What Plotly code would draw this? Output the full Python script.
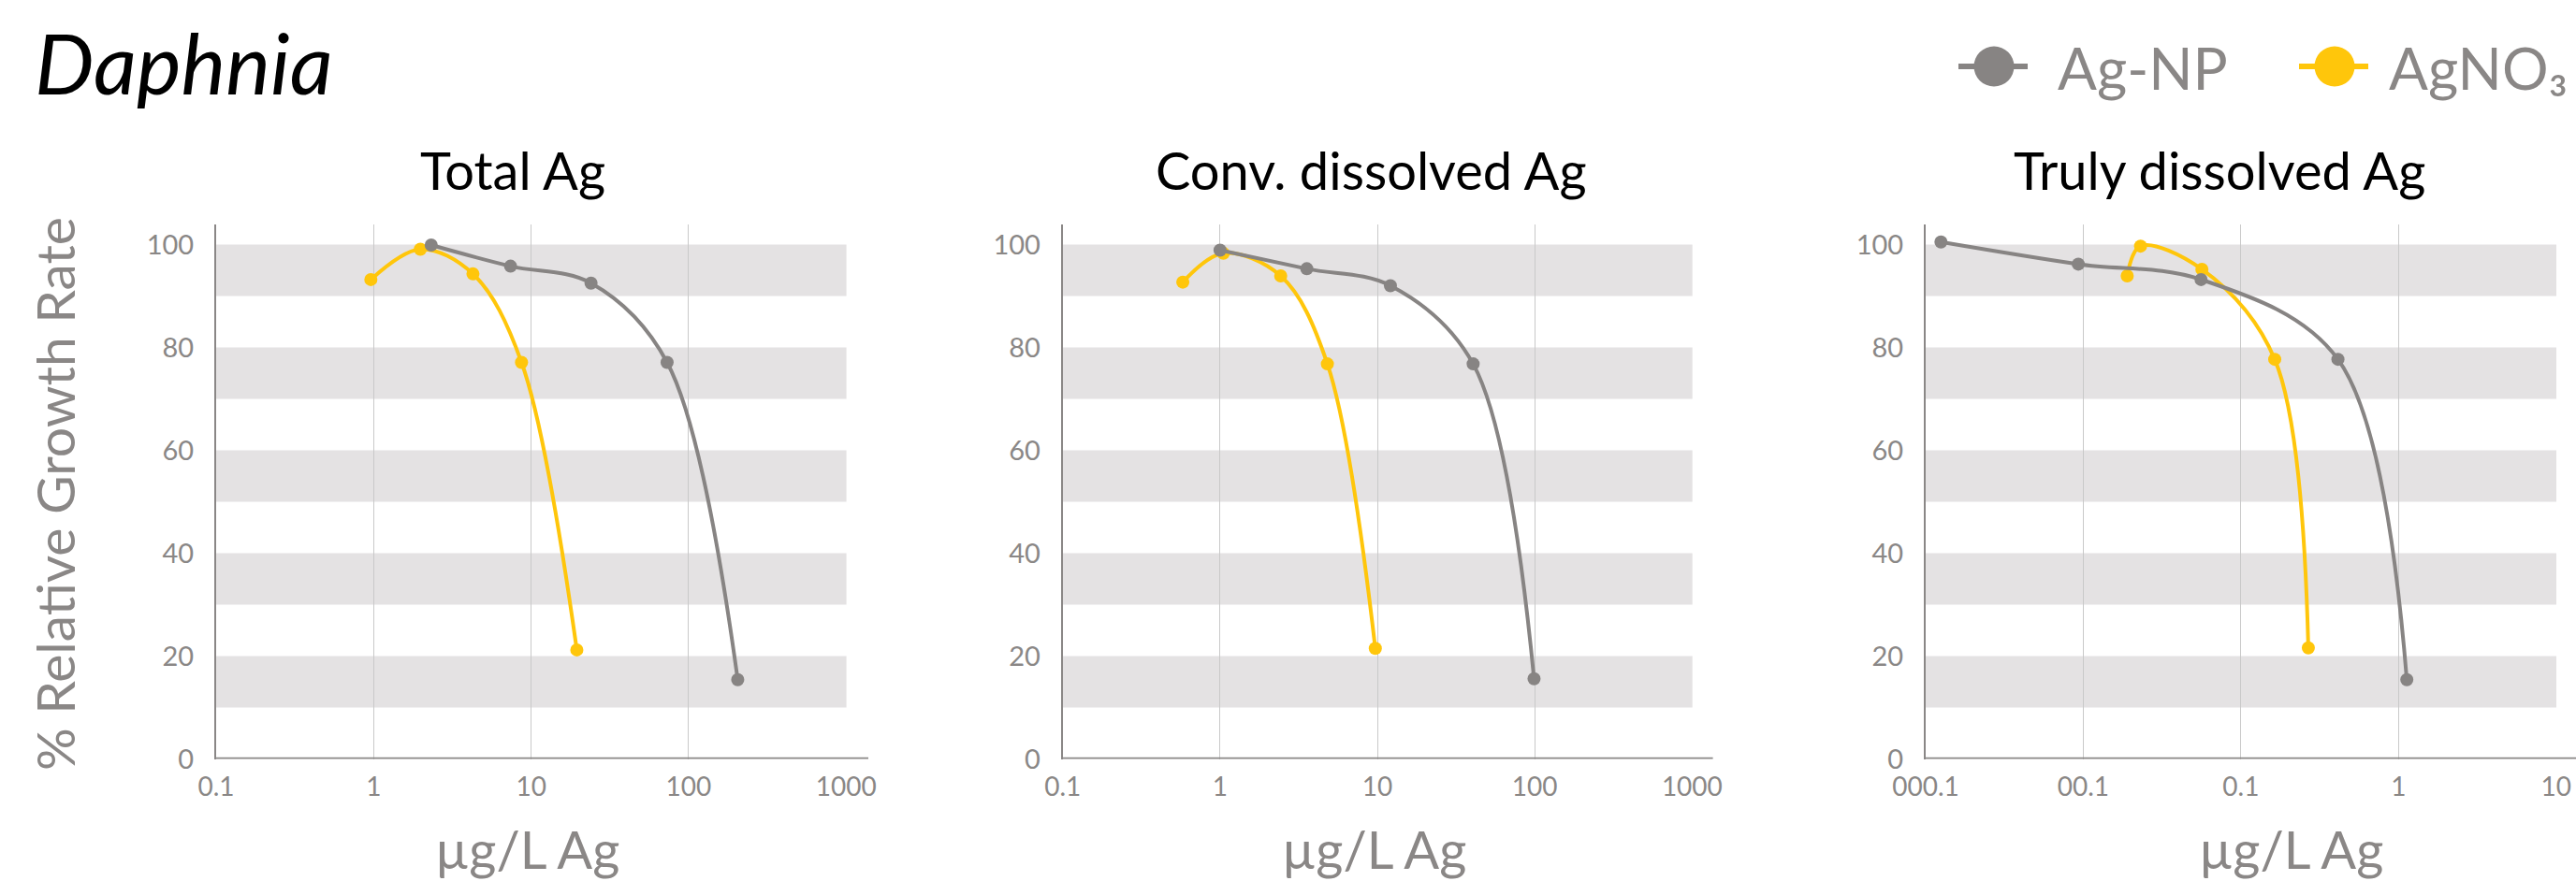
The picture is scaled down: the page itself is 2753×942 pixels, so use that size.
import plotly.graph_objects as go

W, H = 2753, 942
GRAY = "#878483"
YELLOW = "#FFC60B"
TXT = "#8a8786"
BAND = "#e4e2e3"
GRID = "#c9c9c9"
FONT = "Lato"

# ---------------- data ----------------
main_title = "Daphnia"
panel_titles = ["Total Ag", "Conv. dissolved Ag", "Truly dissolved Ag"]
x_title = "µg/L Ag"
y_title = "% Relative Growth Rate"
series_names = ["Ag-NP", "AgNO₃"]

total_np_x = [2.32, 7.4, 24.0, 73.0, 205.0]
total_np_y = [99.9, 95.8, 92.5, 77.1, 15.4]
total_no3_x = [0.96, 1.98, 4.27, 8.69, 19.5]
total_no3_y = [93.2, 99.1, 94.3, 77.1, 21.2]

conv_np_x = [1.0, 3.56, 12.1, 40.6, 99.0]
conv_np_y = [98.9, 95.3, 92.0, 76.8, 15.6]
conv_no3_x = [0.58, 1.05, 2.43, 4.81, 9.7]
conv_no3_y = [92.7, 98.3, 93.9, 76.8, 21.5]

truly_np_x = [0.00125, 0.0093, 0.0559, 0.413, 1.13]
truly_np_y = [100.5, 96.2, 93.2, 77.7, 15.4]
truly_no3_x = [0.019, 0.0231, 0.0566, 0.164, 0.268]
truly_no3_y = [93.9, 99.7, 95.2, 77.7, 21.6]

x_tickvals_12 = [0.1, 1, 10, 100, 1000]
x_ticktext_12 = ["0.1", "1", "10", "100", "1000"]
x_tickvals_3 = [0.001, 0.01, 0.1, 1, 10]
x_ticktext_3 = ["000.1", "00.1", "0.1", "1", "10"]
y_tickvals = [0, 20, 40, 60, 80, 100]
band_ranges = [(10, 20), (30, 40), (50, 60), (70, 80), (90, 100)]

# ---------------- layout geometry (pixels) ----------------
panel_px = [(231.0, 904.6), (1135.7, 1808.7), (2058.0, 2732.0)]
x_ranges = [[-1, 3.002], [-1, 3.002], [-3, 1.002]]
y_bottom_px, y_top_px = 811.5, 239.5
axis_line_end_px = [928.0, 1830.6, 2753.0]
title_cx = [548, 1466, 2372]
xtitle_cx = [563, 1468, 2448]

def px(x):
    return x / W

def py(y):
    return 1 - y / H

panels = [
    (total_np_x, total_np_y, total_no3_x, total_no3_y, x_tickvals_12, x_ticktext_12),
    (conv_np_x, conv_np_y, conv_no3_x, conv_no3_y, x_tickvals_12, x_ticktext_12),
    (truly_np_x, truly_np_y, truly_no3_x, truly_no3_y, x_tickvals_3, x_ticktext_3),
]

fig = go.Figure()
layout = dict(
    width=W, height=H, autosize=False,
    margin=dict(l=0, r=0, t=0, b=0, autoexpand=False),
    paper_bgcolor="white", plot_bgcolor="white",
    showlegend=False,
    font=dict(family=FONT, color=TXT),
)
shapes = []
annotations = []

for i, (npx, npy, nox, noy, tv, tt) in enumerate(panels):
    sfx = "" if i == 0 else str(i + 1)
    xa, ya = "x" + sfx, "y" + sfx
    fig.add_trace(go.Scatter(
        x=nox, y=noy, xaxis=xa, yaxis=ya, mode="lines+markers",
        name=series_names[1],
        line=dict(color=YELLOW, width=4, shape="spline", smoothing=1.0),
        marker=dict(color=YELLOW, size=14),
    ))
    fig.add_trace(go.Scatter(
        x=npx, y=npy, xaxis=xa, yaxis=ya, mode="lines+markers",
        name=series_names[0],
        line=dict(color=GRAY, width=4, shape="spline", smoothing=1.0),
        marker=dict(color=GRAY, size=14),
    ))
    l, r = panel_px[i]
    layout["xaxis" + sfx] = dict(
        type="log", range=x_ranges[i], domain=[px(l), px(r)], anchor=ya,
        automargin=False,
        showgrid=True, gridcolor=GRID, gridwidth=1.2,
        zeroline=False, showline=False, ticks="",
        tickvals=tv, ticktext=tt,
        tickfont=dict(family=FONT, size=28, color=TXT),
        ticklabelstandoff=10,
    )
    layout["yaxis" + sfx] = dict(
        range=[0, 104], domain=[py(y_bottom_px), py(y_top_px)], anchor=xa,
        automargin=False,
        showgrid=False, zeroline=False, showline=True, linecolor=TXT, linewidth=2,
        ticks="", tickvals=y_tickvals,
        tickfont=dict(family=FONT, size=29, color=TXT),
        ticklabelstandoff=16,
    )
    for (b0, b1) in band_ranges:
        shapes.append(dict(type="rect", xref=xa + " domain", yref=ya,
                           x0=0, x1=1, y0=b0, y1=b1, fillcolor=BAND,
                           line=dict(width=0), layer="below"))
    shapes.append(dict(type="line", xref=xa + " domain", yref=ya,
                       x0=0, x1=(axis_line_end_px[i] - l) / (r - l), y0=0, y1=0,
                       line=dict(color=TXT, width=3.5), layer="above"))
    annotations.append(dict(text=panel_titles[i], xref="paper", yref="paper",
                            x=px(title_cx[i]), y=py(182), xanchor="center", yanchor="middle",
                            showarrow=False, font=dict(family=FONT, size=56, color="black")))
    annotations.append(dict(text=x_title, xref="paper", yref="paper",
                            x=px(xtitle_cx[i]), y=py(907), xanchor="center", yanchor="middle",
                            showarrow=False, font=dict(family=FONT, size=56, color=TXT)))

annotations.append(dict(text=main_title, xref="paper", yref="paper",
                        x=px(35), y=py(66), xanchor="left", yanchor="middle",
                        showarrow=False,
                        font=dict(family=FONT, size=90, color="black", style="italic")))
annotations.append(dict(text=y_title, xref="paper", yref="paper",
                        x=px(58), y=py(528), xanchor="center", yanchor="middle",
                        textangle=-90, showarrow=False,
                        font=dict(family=FONT, size=57, color=TXT)))

# legend (drawn manually to match large symbols)
legend_items = [
    (series_names[0], GRAY, 2093, 2167, 2131, 2197),
    (series_names[1], YELLOW, 2457, 2531, 2495, 2551),
]
ly = 71
for name, col, lx0, lx1, cx, tx in legend_items:
    shapes.append(dict(type="line", xref="paper", yref="paper",
                       x0=px(lx0), x1=px(lx1), y0=py(ly), y1=py(ly),
                       line=dict(color=col, width=6)))
    rr = 21.5
    shapes.append(dict(type="circle", xref="paper", yref="paper",
                       x0=px(cx - rr), x1=px(cx + rr), y0=py(ly + rr), y1=py(ly - rr),
                       fillcolor=col, line=dict(width=0)))
    annotations.append(dict(text=name, xref="paper", yref="paper",
                            x=px(tx), y=py(ly + 1), xanchor="left", yanchor="middle",
                            showarrow=False, font=dict(family=FONT, size=62, color=TXT)))

layout["shapes"] = shapes
layout["annotations"] = annotations
fig.update_layout(**layout)
fig.write_html(
    "out.html",
    config={"displayModeBar": False},
    post_script="document.body.style.margin='0';document.body.style.overflow='hidden';",
)
